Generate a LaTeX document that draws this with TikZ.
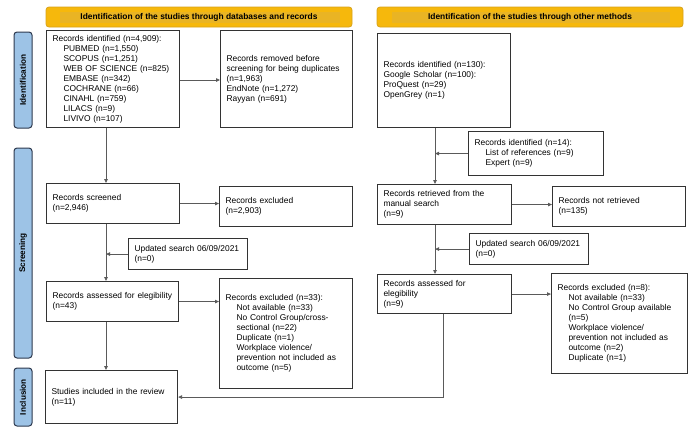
\documentclass[tikz,border=0pt]{standalone}
\usepackage{fontspec}
\setmainfont{Liberation Sans}
\usetikzlibrary{arrows.meta}
\definecolor{hdrorange}{HTML}{F6B80C}
\definecolor{hdrband}{HTML}{E9B424}
\definecolor{hdredge}{HTML}{D8A21A}
\definecolor{phaseblue}{HTML}{9DC3E6}
\definecolor{phaseedge}{HTML}{2E3A4F}
\definecolor{boxgray}{HTML}{333333}
\definecolor{linegray}{HTML}{5A5A5A}
\newcommand{\ind}{\hspace*{11pt}}

\tikzset{
  box/.style 2 args={draw=boxgray, line width=1.1pt, anchor=north west, align=left,
    inner xsep=6pt, inner ysep=2pt, text width=#1-12pt, minimum width=#1, minimum height=#2,
    font=\fontsize{8.4pt}{10pt}\selectfont},
  hdr/.style={draw=hdredge, fill=hdrorange, rounded corners=3pt, line width=0.8pt,
    minimum width=306pt, minimum height=20pt},
  hdrtext/.style={font=\fontsize{8.4pt}{10pt}\selectfont\bfseries},
  phase/.style={draw=phaseedge, fill=phaseblue, rounded corners=3pt, line width=1pt,
    minimum height=18pt, rotate=90, font=\fontsize{8.2pt}{10pt}\selectfont\bfseries},
  arr/.style={draw=linegray, line width=0.8pt, -{Triangle[length=4pt,width=3.5pt]}}
}

\begin{document}
\begin{tikzpicture}[x=1pt, y=-1pt]
  \useasboundingbox (0,0) rectangle (700,432);

  % Headers
  \node[hdr] (hleft) at (199,17) {};
  \fill[hdrband] (60,12) rectangle (340,23);
  \node[hdrtext] at (hleft) {Identification of the studies through databases and records};
  \node[hdr] (hright) at (530,17) {};
  \fill[hdrband] (392,12) rectangle (670,23);
  \node[hdrtext] at (hright) {Identification of the studies through other methods};

  % Phase labels
  \node[phase, minimum width=96pt] (pid) at (23,80) {Identification};
  \node[phase, minimum width=210pt] (pscr) at (23,253) {Screening};
  \node[phase, minimum width=58pt] (pinc) at (23,397) {Inclusion};

  % Trunk positions
  \coordinate (lt) at (106,0);
  \coordinate (rt) at (435,0);
  \coordinate (rt2) at (443,0);

  % Left column
  \node[box={133pt}{97pt}] (lid) at (46,30) {Records identified (n=4,909):\\
    \ind PUBMED (n=1,550)\\ \ind SCOPUS (n=1,251)\\ \ind WEB OF SCIENCE (n=825)\\
    \ind EMBASE (n=342)\\ \ind COCHRANE (n=66)\\ \ind CINAHL (n=759)\\
    \ind LILACS (n=9)\\ \ind LIVIVO (n=107)};
  \node[box={132pt}{97pt}] (ldup) at (220,30) {Records removed before\\screening for being duplicates\\(n=1,963)\\EndNote (n=1,272)\\Rayyan (n=691)};
  \node[box={133pt}{40pt}] (lscr) at (46,183) {Records screened\\(n=2,946)};
  \node[box={133pt}{40pt}] (lexc) at (219,186) {Records excluded\\(n=2,903)};
  \node[box={119pt}{31pt}] (lupd) at (128,238) {Updated search 06/09/2021\\(n=0)};
  \node[box={132pt}{40pt}] (lasm) at (46,281) {Records assessed for elegibility\\(n=43)};
  \node[box={133pt}{110pt}] (lexa) at (219,278) {Records excluded (n=33):\\
    \ind Not available (n=33)\\ \ind No Control Group/cross-\\ \ind sectional (n=22)\\
    \ind Duplicate (n=1)\\ \ind Workplace violence/\\ \ind prevention not included as\\ \ind outcome (n=5)};
  \node[box={132pt}{53pt}] (linc) at (45,370) {Studies included in the review\\(n=11)};

  % Right column
  \node[box={133pt}{94pt}] (rid) at (377,33) {Records identified (n=130):\\Google Scholar (n=100):\\ProQuest (n=29)\\OpenGrey (n=1)};
  \node[box={135pt}{44pt}] (rman) at (468,131) {Records identified (n=14):\\
    \ind List of references (n=9)\\ \ind Expert (n=9)};
  \node[box={134pt}{40pt}] (rret) at (377,184) {Records retrieved from the\\manual search\\(n=9)};
  \node[box={133pt}{40pt}] (rnot) at (552,186) {Records not retrieved\\(n=135)};
  \node[box={119pt}{31pt}] (rupd) at (469,233) {Updated search 06/09/2021\\(n=0)};
  \node[box={134pt}{39pt}] (rasm) at (377,274) {Records assessed for\\elegibility\\(n=9)};
  \node[box={136pt}{100pt}] (rexa) at (551,273) {Records excluded (n=8):\\
    \ind Not available (n=33)\\ \ind No Control Group available\\ \ind (n=5)\\
    \ind Workplace violence/\\ \ind prevention not included as\\ \ind outcome (n=2)\\ \ind Duplicate (n=1)};

  % Left connectors
  \draw[arr] (lid.south -| lt) -- (lscr.north -| lt);
  \draw[arr] (lid.east |- 0,80) -- (ldup.west |- 0,80);
  \draw[arr] (lscr.east) -- (lexc.west |- lscr.east);
  \draw[arr] (lscr.south -| lt) -- (lasm.north -| lt);
  \draw[arr] (lupd.west) -- (lupd.west -| lt);
  \draw[arr] (lasm.east) -- (lexa.west |- lasm.east);
  \draw[arr] (lasm.south -| lt) -- (linc.north -| lt);

  % Right connectors
  \draw[arr] (rid.south -| rt) -- (rret.north -| rt);
  \draw[arr] (rman.west) -- (rman.west -| rt);
  \draw[arr] (rret.east) -- (rnot.west |- rret.east);
  \draw[arr] (rret.south -| rt) -- (rasm.north -| rt);
  \draw[arr] (rupd.west) -- (rupd.west -| rt);
  \draw[arr] (rasm.east) -- (rexa.west |- rasm.east);
  \draw[arr] (rasm.south -| rt2) |- (linc.east);
\end{tikzpicture}
\end{document}
